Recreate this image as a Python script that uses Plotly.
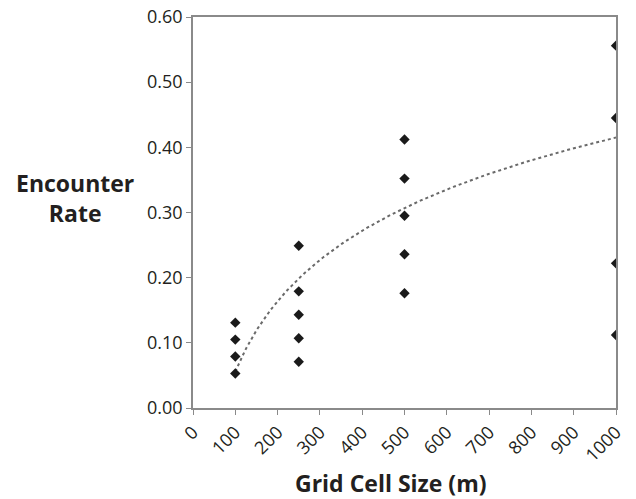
import numpy as np
import plotly.graph_objects as go

# Data
grid_size = [100, 100, 100, 100,
             250, 250, 250, 250, 250,
             500, 500, 500, 500, 500,
             1000, 1000, 1000, 1000]
encounter_rate = [0.131, 0.105, 0.079, 0.053,
                  0.249, 0.179, 0.143, 0.107, 0.071,
                  0.412, 0.352, 0.295, 0.236, 0.176,
                  0.556, 0.445, 0.222, 0.112]

# Logarithmic trendline y = a*ln(x) + b (as drawn in the reference)
trend_a = 0.156
trend_b = -0.6626
trend_x_range = [100, 1000]

x_ticks = [0, 100, 200, 300, 400, 500, 600, 700, 800, 900, 1000]
y_ticks = [0.0, 0.1, 0.2, 0.3, 0.4, 0.5, 0.6]

tx = np.linspace(trend_x_range[0], trend_x_range[1], 200)
ty = trend_a * np.log(tx) + trend_b

FONT = "Open Sans"
TXT = "#231f20"
AX = "#8a8a8a"

fig = go.Figure()
fig.add_trace(go.Scatter(x=tx, y=ty, mode="lines",
                         line=dict(color="#6a6a6a", width=2, dash="dot"),
                         hoverinfo="skip", showlegend=False))
fig.add_trace(go.Scatter(x=grid_size, y=encounter_rate, mode="markers",
                         marker=dict(symbol="diamond", size=8, color="#1a1a1a"),
                         showlegend=False))

fig.update_xaxes(range=[0, 1000], tickvals=x_ticks, ticktext=[str(v) for v in x_ticks],
                 tickangle=-45, showgrid=False, zeroline=False, automargin=False,
                 ticklabeloverflow="allow",
                 showline=True, linecolor=AX, linewidth=1.5, mirror=True,
                 ticks="outside", ticklen=5, tickcolor=AX,
                 tickfont=dict(family=FONT, size=18, color=TXT))
fig.update_yaxes(range=[0, 0.6], tickvals=y_ticks, tickformat=".2f",
                 showgrid=False, zeroline=False, automargin=False,
                 ticklabeloverflow="allow",
                 showline=True, linecolor=AX, linewidth=1.5, mirror=True,
                 ticks="outside", ticklen=5, tickcolor=AX,
                 tickfont=dict(family=FONT, size=18, color=TXT))

fig.add_annotation(text="<b>Encounter<br>Rate</b>", xref="paper", yref="paper",
                   x=-0.2778, y=0.5376, xanchor="center", yanchor="middle",
                   showarrow=False, align="center",
                   font=dict(family=FONT, size=23, color=TXT))
fig.add_annotation(text="<b>Grid Cell Size (m)</b>", xref="paper", yref="paper",
                   x=0.468, y=-0.1918, xanchor="center", yanchor="middle",
                   showarrow=False, font=dict(family=FONT, size=23, color=TXT))

fig.update_layout(width=636, height=499,
                  margin=dict(l=193, r=20, t=17, b=91),
                  paper_bgcolor="white", plot_bgcolor="white")

# Remove the default page margin so the figure fills the window exactly
fig.write_html("out.html", config={"displayModeBar": False},
               post_script="document.body.style.margin='0px';")
